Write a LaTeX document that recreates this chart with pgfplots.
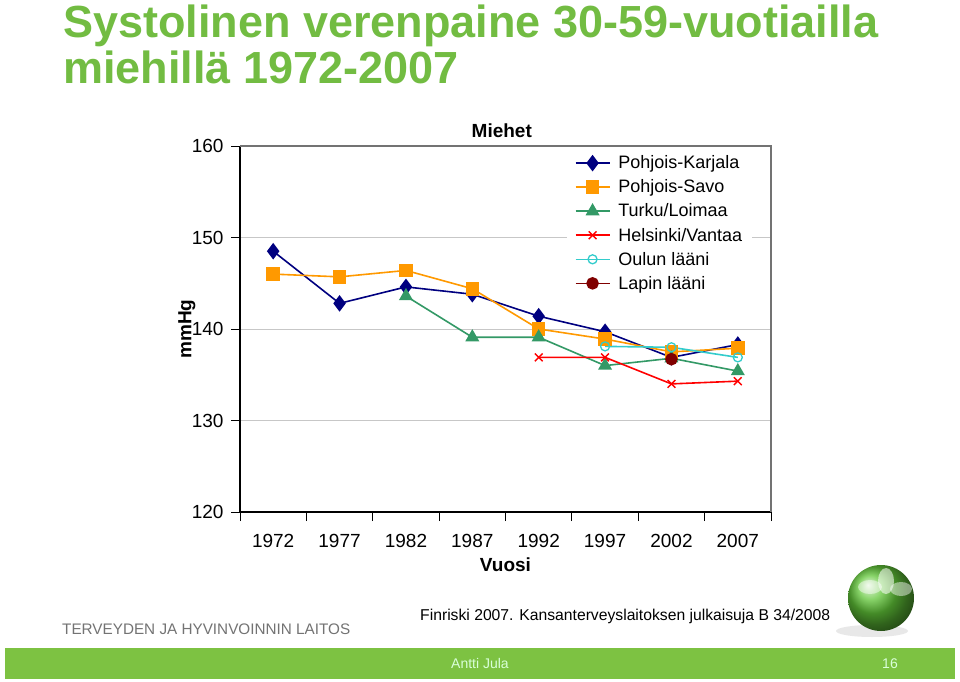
\documentclass[border=0pt]{standalone}
\usepackage{fontspec}
\setmainfont{Liberation Sans}
\usepackage{graphicx}
\usepackage{pgfplots}
\pgfplotsset{compat=1.18}
\usetikzlibrary{shadings}

\definecolor{thlgreen}{RGB}{114,188,66}
\definecolor{barg}{RGB}{125,194,66}
\definecolor{pkar}{RGB}{0,0,128}
\definecolor{psav}{RGB}{255,153,0}
\definecolor{turku}{RGB}{51,153,102}
\definecolor{hels}{RGB}{255,0,0}
\definecolor{oulu}{RGB}{51,204,204}
\definecolor{lappi}{RGB}{128,0,0}

\begin{document}
\begin{tikzpicture}
\path[use as bounding box, fill=white] (0pt,0pt) rectangle (960pt,681pt);

% slide title
\node[anchor=base west, inner sep=0, text=thlgreen, font=\fontsize{45}{47}\selectfont\bfseries]
  at (63pt,643pt) {Systolinen verenpaine 30-59-vuotiailla};
\node[anchor=base west, inner sep=0, text=thlgreen, font=\fontsize{45}{47}\selectfont\bfseries]
  at (63pt,597pt) {miehillä 1972-2007};

\begin{axis}[
  at={(240pt,169pt)}, anchor=south west,
  scale only axis, width=531pt, height=366pt,
  xmin=-0.5, xmax=7.5, ymin=120, ymax=160,
  axis lines=left, axis line style={-, black, line width=1.2pt},
  tick align=outside,
  xtick={0,...,7},
  xticklabels={1972,1977,1982,1987,1992,1997,2002,2007},
  major x tick style={draw=none},
  minor xtick={-0.5,0.5,...,7.5},
  minor x tick style={black, line width=0.9pt},
  ytick={120,130,...,160},
  y tick style={black, line width=0.9pt},
  major tick length=9pt, minor tick length=9pt,
  ymajorgrids, grid style={black!22, line width=0.9pt},
  /pgf/number format/assume math mode=true,
  /pgf/number format/1000 sep={},
  tick label style={font=\fontsize{19}{22}\selectfont},
  xticklabel style={anchor=base, yshift=-26pt},
  yticklabel style={anchor=east, xshift=-4pt},
  title={Miehet},
  title style={at={(axis description cs:0.493,1)}, anchor=base, yshift=3pt, font=\fontsize{19}{22}\selectfont\bfseries},
  xlabel={Vuosi},
  xlabel style={at={(axis description cs:0.5,0)}, anchor=base, yshift=-59pt, font=\fontsize{19}{22}\selectfont\bfseries},
  ylabel={mmHg},
  ylabel style={at={(axis description cs:-0.1,0.5)}, anchor=center, font=\fontsize{19}{22}\selectfont\bfseries},
  every axis plot/.append style={line width=1.6pt},
  legend style={at={(axis description cs:0.615,0.99)}, anchor=north west,
    draw=none, fill=white, font=\fontsize{18}{21}\selectfont,
    row sep=5.5pt, inner xsep=8pt, inner ysep=4pt, cells={anchor=west}},
  legend image code/.code={
    \draw[mark repeat=2,mark phase=2] plot coordinates {(0pt,0pt) (17pt,0pt) (34pt,0pt)};
    \path (40pt,0pt);},
  clip=false,
]
\addplot[color=pkar, mark=diamond*, mark size=7pt] coordinates {
  (0,148.5) (1,142.8) (2,144.6) (3,143.8) (4,141.4) (5,139.7) (6,136.9) (7,138.3)};
\addlegendentry{Pohjois-Karjala}
\addplot[color=psav, mark=square*, mark size=6pt] coordinates {
  (0,146.0) (1,145.7) (2,146.4) (3,144.4) (4,140.0) (5,138.9) (6,137.5) (7,137.9)};
\addlegendentry{Pohjois-Savo}
\addplot[color=turku, mark=triangle*, mark size=6.5pt] coordinates {
  (2,143.6) (3,139.1) (4,139.1) (5,136.0) (6,136.8) (7,135.4)};
\addlegendentry{Turku/Loimaa}
\addplot[color=hels, mark=x, mark size=5.5pt, mark options={line width=1.4pt}] coordinates {
  (4,136.9) (5,136.9) (6,134.0) (7,134.3)};
\addlegendentry{Helsinki/Vantaa}
\addplot[color=oulu, mark=o, mark size=4.5pt, mark options={line width=1.3pt, fill=white}] coordinates {
  (5,138.1) (6,138.0) (7,136.9)};
\addlegendentry{Oulun lääni}
\addplot[color=lappi, mark=*, mark size=5.5pt] coordinates {
  (6,136.7)};
\addlegendentry{Lapin lääni}
\draw[black!55, line width=1.2pt] (rel axis cs:0,1) -- (rel axis cs:1,1) -- (rel axis cs:1,0);
\end{axis}

% source line and institute name
\node[anchor=base west, inner sep=0] at (420pt,61pt)
  {\resizebox{410pt}{!}{\fontsize{17}{20}\selectfont Finriski 2007. Kansanterveyslaitoksen julkaisuja B 34/2008}};
\node[anchor=base west, inner sep=0, text=black!55] at (62pt,47pt)
  {\resizebox{288pt}{!}{\fontsize{15}{18}\selectfont TERVEYDEN JA HYVINVOINNIN LAITOS}};

% logo ball
\fill[black!15, opacity=0.6] (872pt,50pt) ellipse (36pt and 6pt);
\shade[ball color=thlgreen!85!green] (881pt,83pt) circle (33pt);
\fill[white, opacity=0.55] (886pt,100pt) ellipse (8pt and 13pt);
\fill[white, opacity=0.45] (870pt,94pt) ellipse (12pt and 7pt);
\fill[white, opacity=0.45] (901pt,92pt) ellipse (11pt and 7pt);

% footer bar
\fill[barg] (5pt,2pt) rectangle (955pt,33pt);
\node[anchor=base, text=white!85!green, font=\fontsize{14}{16}\selectfont] at (480pt,13pt) {Antti Jula};
\node[anchor=base, text=white!85!green, font=\fontsize{14}{16}\selectfont] at (890pt,13pt) {16};
\end{tikzpicture}
\end{document}
